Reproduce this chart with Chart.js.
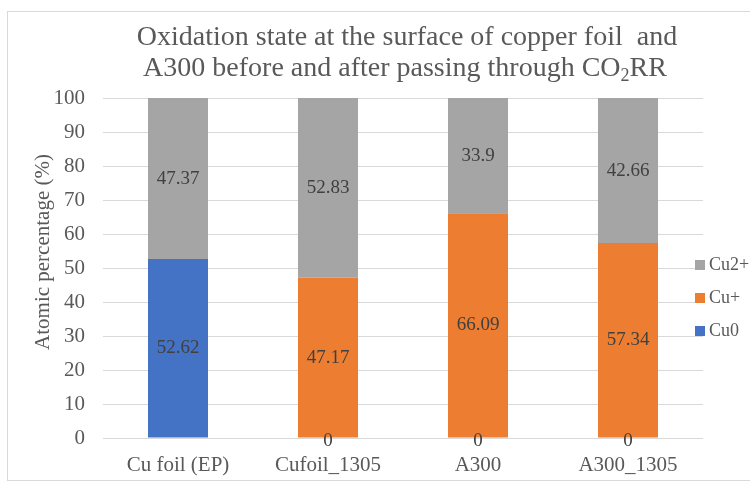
<!DOCTYPE html>
<html>
<head>
<meta charset="utf-8">
<script src="https://cdn.jsdelivr.net/npm/chart.js@4/dist/chart.umd.min.js"></script>
<style>
  body { margin: 0; background: #fff; }
  #wrap { width: 750px; height: 487px; position: relative; }
</style>
</head>
<body>
<div id="wrap"><canvas id="chart"></canvas></div>
<script>
// data
const categories = ['Cu foil (EP)', 'Cufoil_1305', 'A300', 'A300_1305'];
const cu0 = [52.62, 0, 0, 0];
const cuPlus = [null, 47.17, 66.09, 57.34];
const cu2Plus = [47.37, 52.83, 33.9, 42.66];
const yTicks = [0, 10, 20, 30, 40, 50, 60, 70, 80, 90, 100];

const FONT = '"Liberation Serif", "Times New Roman", serif';
const TXT = '#595959';

// frame, title, axis title, legend and value labels
const decorations = {
    id: 'decorations',
    beforeDraw(chart) {
        const ctx = chart.ctx;
        ctx.save();
        ctx.fillStyle = '#fff';
        ctx.fillRect(0, 0, chart.width, chart.height);
        ctx.strokeStyle = '#d9d9d9';
        ctx.lineWidth = 1;
        ctx.strokeRect(7.5, 11.5, 800, 469);
        ctx.restore();
    },
    afterDraw(chart) {
        const ctx = chart.ctx;
        ctx.save();

        // title with subscript
        ctx.fillStyle = TXT;
        ctx.font = '28px ' + FONT;
        ctx.textAlign = 'center';
        ctx.textBaseline = 'alphabetic';
        ctx.fillText('Oxidation state at the surface of copper foil  and', 407, 45);
        const p1 = 'A300 before and after passing through CO';
        const w1 = ctx.measureText(p1).width;
        ctx.font = '18px ' + FONT;
        const w2 = ctx.measureText('2').width;
        ctx.font = '28px ' + FONT;
        const w3 = ctx.measureText('RR').width;
        let x = 405 - (w1 + w2 + w3) / 2;
        ctx.textAlign = 'left';
        ctx.fillText(p1, x, 76);
        x += w1;
        ctx.font = '18px ' + FONT;
        ctx.fillText('2', x, 81);
        x += w2;
        ctx.font = '28px ' + FONT;
        ctx.fillText('RR', x, 76);

        // y axis title
        ctx.save();
        ctx.translate(43, 252);
        ctx.rotate(-Math.PI / 2);
        ctx.textAlign = 'center';
        ctx.textBaseline = 'middle';
        ctx.font = '21px ' + FONT;
        ctx.fillText('Atomic percentage (%)', 0, 0);
        ctx.restore();

        // legend, reversed like the stack
        const ds = chart.data.datasets;
        ctx.font = '18px ' + FONT;
        ctx.textAlign = 'left';
        ctx.textBaseline = 'middle';
        for (let i = ds.length - 1, row = 0; i >= 0; i--, row++) {
            const y = 265 + row * 33;
            ctx.fillStyle = ds[i].backgroundColor;
            ctx.fillRect(695, y - 5, 10, 10);
            ctx.fillStyle = TXT;
            ctx.fillText(ds[i].label, 709, y);
        }

        // value labels
        ctx.fillStyle = '#404040';
        ctx.font = '19px ' + FONT;
        ctx.textAlign = 'center';
        ctx.textBaseline = 'middle';
        ds.forEach((d, di) => {
            const meta = chart.getDatasetMeta(di);
            meta.data.forEach((el, i) => {
                const v = d.data[i];
                if (v === null || v === undefined) return;
                const y = v === 0 ? el.base + 3 : (el.y + el.base) / 2;
                ctx.fillText(String(v), el.x, y);
            });
        });
        ctx.restore();
    }
};

new Chart(document.getElementById('chart'), {
    type: 'bar',
    data: {
        labels: categories,
        datasets: [
            { label: 'Cu0', data: cu0, backgroundColor: '#4472C4' },
            { label: 'Cu+', data: cuPlus, backgroundColor: '#ED7D31' },
            { label: 'Cu2+', data: cu2Plus, backgroundColor: '#A5A5A5' }
        ]
    },
    options: {
        responsive: true,
        maintainAspectRatio: false,
        animation: false,
        datasets: { bar: { categoryPercentage: 1, barPercentage: 0.4 } },
        layout: { padding: { top: 98, right: 47, left: 0, bottom: 0 } },
        plugins: {
            legend: { display: false },
            title: { display: false },
            tooltip: { enabled: false }
        },
        scales: {
            x: {
                stacked: true,
                grid: { display: false, drawTicks: false },
                border: { display: false },
                ticks: { font: { family: FONT, size: 21 }, color: TXT, padding: 15 },
                afterFit(scale) { scale.height = 49; }
            },
            y: {
                stacked: true,
                min: 0,
                max: 100,
                afterBuildTicks(scale) { scale.ticks = yTicks.map(v => ({ value: v })); },
                grid: { color: '#d9d9d9', drawTicks: false },
                border: { display: false },
                ticks: { font: { family: FONT, size: 21 }, color: TXT, padding: 18 },
                afterFit(scale) { scale.width = 103; }
            }
        }
    },
    plugins: [decorations]
});
</script>
</body>
</html>
